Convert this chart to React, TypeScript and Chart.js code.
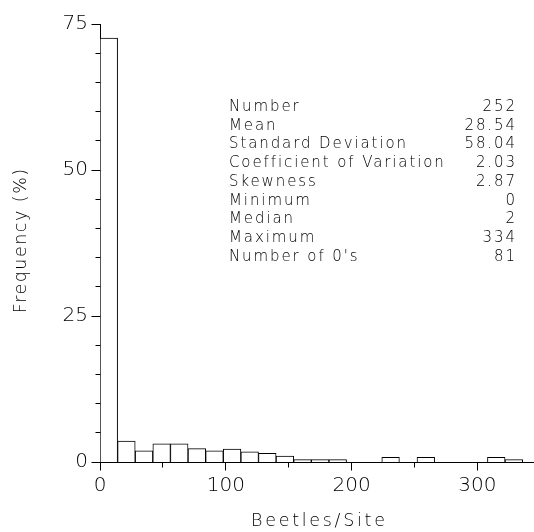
import React, { useEffect, useRef } from "react";
import { Chart, registerables } from "chart.js";

Chart.register(...registerables);

// ---- data ----
const binCenters = [7, 21, 35, 49, 63, 77, 91, 105, 119, 133, 147, 161, 175, 189, 203, 217, 231, 245, 259, 273, 287, 301, 315, 329];
const frequency = [72.6, 3.6, 1.9, 3.1, 3.1, 2.3, 1.9, 2.2, 1.75, 1.5, 1.0, 0.4, 0.4, 0.4, 0, 0, 0.8, 0, 0.8, 0, 0, 0, 0.8, 0.4];

const xMajorTicks = [0, 100, 200, 300];
const xMinorTicks = [50, 150, 250];
const yMajorTicks = [0, 25, 50, 75];
const yMinorTicks = [5, 10, 15, 20, 30, 35, 40, 45, 55, 60, 65, 70];

const statLabels = ["Number", "Mean", "Standard Deviation", "Coefficient of Variation", "Skewness", "Minimum", "Median", "Maximum", "Number of 0's"];
const statValues = ["252", "28.54", "58.04", "2.03", "2.87", "0", "2", "334", "81"];

const xTitle = "Beetles/Site";
const yTitle = "Frequency (%)";

const INK = "#000000";
const FAMILY = '"DejaVu Sans", sans-serif';
const WEIGHT = "200";

const overlayPlugin = {
  id: "overlay",
  afterDraw(chart: any) {
    const ctx: CanvasRenderingContext2D = chart.ctx;
    const xs = chart.scales.x;
    const ys = chart.scales.y;
    const al = (p: number) => Math.round(p - 0.5) + 0.5;
    const axisX = al(chart.chartArea.left);
    const axisY = al(chart.chartArea.bottom);

    ctx.save();
    ctx.strokeStyle = INK;
    ctx.lineWidth = 1;
    ctx.beginPath();
    yMajorTicks.forEach((v) => {
      const y = al(ys.getPixelForValue(v));
      ctx.moveTo(axisX - 9, y);
      ctx.lineTo(axisX, y);
    });
    yMinorTicks.forEach((v) => {
      const y = al(ys.getPixelForValue(v));
      ctx.moveTo(axisX - 5, y);
      ctx.lineTo(axisX, y);
    });
    xMajorTicks.forEach((v) => {
      const x = al(xs.getPixelForValue(v));
      ctx.moveTo(x, axisY);
      ctx.lineTo(x, axisY + 8);
    });
    xMinorTicks.forEach((v) => {
      const x = al(xs.getPixelForValue(v));
      ctx.moveTo(x, axisY);
      ctx.lineTo(x, axisY + 5);
    });
    ctx.stroke();

    // statistics table
    ctx.fillStyle = INK;
    const sp = 1.9;
    (ctx as any).letterSpacing = sp + "px";
    ctx.font = `${WEIGHT} 15px ${FAMILY}`;
    ctx.textBaseline = "alphabetic";
    statLabels.forEach((lab, i) => {
      const y = 111 + i * 18.7;
      ctx.textAlign = "left";
      ctx.fillText(lab, 229, y);
      ctx.textAlign = "right";
      ctx.fillText(statValues[i], 515 + sp, y);
    });

    // axis titles
    const tsp = 2.7;
    (ctx as any).letterSpacing = tsp + "px";
    ctx.font = `${WEIGHT} 17.5px ${FAMILY}`;
    ctx.textAlign = "center";
    ctx.fillText(xTitle, 318 + tsp / 2, 526);
    const ysp = 1.5;
    (ctx as any).letterSpacing = ysp + "px";
    ctx.translate(26, 241);
    ctx.rotate(-Math.PI / 2);
    ctx.fillText(yTitle, ysp / 2, 0);
    ctx.restore();
  },
};

export default function App() {
  const ref = useRef<HTMLCanvasElement>(null);

  useEffect(() => {
    if (!ref.current) return;
    const tickFont = { family: FAMILY, size: 20, weight: WEIGHT as any };
    const chart = new Chart(ref.current, {
      type: "bar",
      data: {
        datasets: [
          {
            data: binCenters.map((x, i) => ({ x, y: frequency[i] })),
            backgroundColor: "#ffffff",
            borderColor: INK,
            borderWidth: 1,
            barPercentage: 1,
            categoryPercentage: 1,
          } as any,
        ],
      },
      options: {
        animation: false,
        responsive: false,
        maintainAspectRatio: false,
        devicePixelRatio: 1,
        layout: { padding: { top: 20, left: 0, right: 0, bottom: 0 } },
        plugins: {
          legend: { display: false },
          tooltip: { enabled: false },
          title: { display: false },
        },
        scales: {
          x: {
            type: "linear",
            min: 0,
            max: 345,
            offset: false,
            grid: { display: false, drawTicks: false },
            border: { display: true, color: INK, width: 1 },
            ticks: {
              stepSize: 100,
              includeBounds: false,
              autoSkip: false,
              maxRotation: 0,
              padding: 12,
              color: INK,
              font: tickFont,
              callback: (v: any) => (xMajorTicks.includes(Number(v)) ? String(v) : ""),
            },
            afterFit: (s: any) => {
              s.height = 70;
            },
          },
          y: {
            min: 0,
            max: 75,
            grid: { display: false, drawTicks: false },
            border: { display: true, color: INK, width: 1 },
            ticks: {
              stepSize: 25,
              autoSkip: false,
              padding: 12,
              color: INK,
              font: tickFont,
              callback: (v: any) => (yMajorTicks.includes(Number(v)) ? String(v) : ""),
            },
            afterFit: (s: any) => {
              s.width = 100;
            },
          },
        } as any,
      },
      plugins: [overlayPlugin],
    });
    return () => chart.destroy();
  }, []);

  return (
    <div style={{ position: "absolute", left: 0, top: 0, width: 534, height: 532, background: "#fff" }}>
      <canvas ref={ref} width={534} height={532} style={{ display: "block" }} />
    </div>
  );
}
